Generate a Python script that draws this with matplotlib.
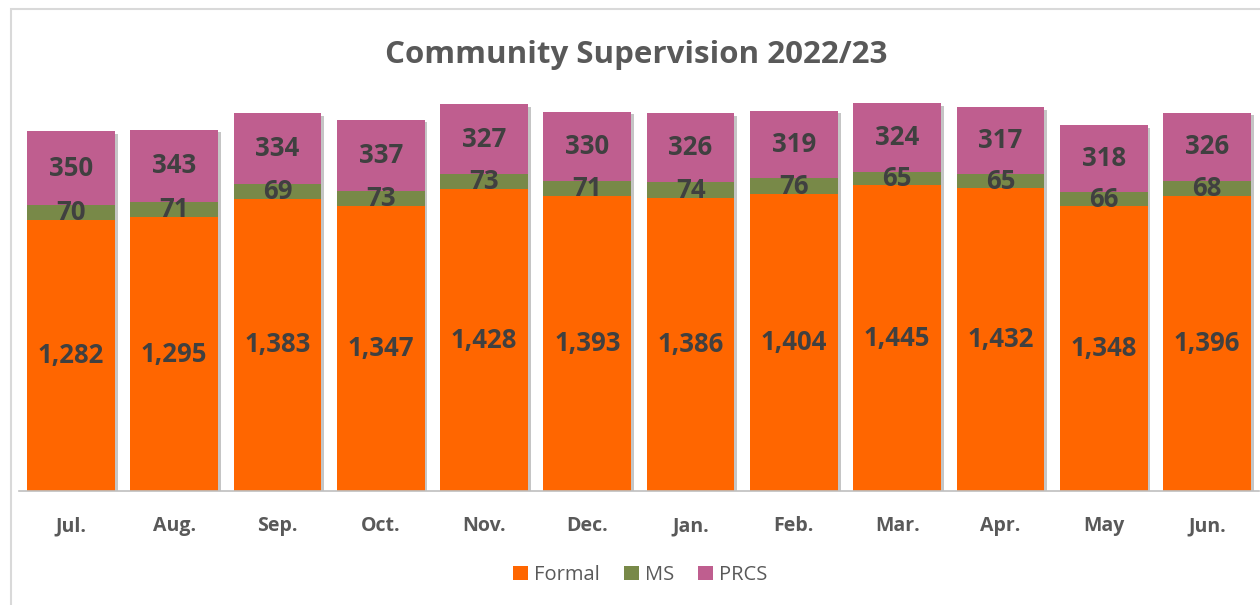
import matplotlib.pyplot as plt
import matplotlib.patheffects as pe
from matplotlib.patches import Rectangle
import numpy as np

months = ["Jul.", "Aug.", "Sep.", "Oct.", "Nov.", "Dec.", "Jan.", "Feb.", "Mar.", "Apr.", "May", "Jun."]
formal = [1282, 1295, 1383, 1347, 1428, 1393, 1386, 1404, 1445, 1432, 1348, 1396]
ms = [70, 71, 69, 73, 73, 71, 74, 76, 65, 65, 66, 68]
prcs = [350, 343, 334, 337, 327, 330, 326, 319, 324, 317, 318, 326]

plt.rcParams['font.family'] = ['Open Sans', 'DejaVu Sans']

fig = plt.figure(figsize=(12.6, 6.05), dpi=100)
# chart frame (cropped at right and bottom)
fig.patches.append(Rectangle((11 / 1260, -0.05), 1.1, 1 - 9 / 605 + 0.05,
                             transform=fig.transFigure, fill=False,
                             edgecolor='#d9d9d9', linewidth=1.5))

ax = fig.add_axes([0.0153, 0.1884, 0.9836, 0.699])
x = np.arange(len(months))
w = 0.85
total = np.array(formal) + np.array(ms) + np.array(prcs)

# soft shadow behind each whole stack
ax.bar(x, total, w, color='white', zorder=1,
       path_effects=[pe.SimplePatchShadow(offset=(2, -2), shadow_rgbFace='#8c8c8c', alpha=0.5)])

b1 = ax.bar(x, formal, w, color='#FF6600', label='Formal', zorder=2)
b2 = ax.bar(x, ms, w, bottom=formal, color='#788948', label='MS', zorder=2)
bot = np.array(formal) + np.array(ms)
b3 = ax.bar(x, prcs, w, bottom=bot, color='#BF5E8F', label='PRCS', zorder=2)

lab = dict(ha='center', va='center', fontsize=18.5, fontweight='bold', color='#404040', zorder=3)
for i in range(len(months)):
    ax.text(x[i], formal[i] / 2, f"{formal[i]:,}", **lab)
    ax.text(x[i], formal[i] + ms[i] / 2, f"{ms[i]}", **lab)
    ax.text(x[i], bot[i] + prcs[i] / 2, f"{prcs[i]}", **lab)

ax.set_xlim(-0.5, 11.5)
ax.set_ylim(0, 2000)
ax.set_yticks([])
ax.set_xticks(x)
ax.set_xticklabels(months, fontsize=14, fontweight='bold', color='#595959')
ax.tick_params(axis='x', length=0, pad=18)
for s in ['top', 'right', 'left']:
    ax.spines[s].set_visible(False)
ax.spines['bottom'].set_color('#bfbfbf')
ax.spines['bottom'].set_linewidth(1.2)
ax.spines['bottom'].set_zorder(4)

fig.text(0.505, 1 - 55 / 605, "Community Supervision 2022/23", ha='center', va='center',
         fontsize=22.5, fontweight='bold', color='#595959')

leg = fig.legend(handles=[b1, b2, b3], labels=['Formal', 'MS', 'PRCS'], loc='center',
                 bbox_to_anchor=(0.508, 1 - 575 / 605), ncol=3, frameon=False,
                 fontsize=14.5, handlelength=0.75, handleheight=0.75, handletextpad=0.3,
                 columnspacing=1.2, labelcolor='#595959')

fig.savefig('out.png', dpi=100)
